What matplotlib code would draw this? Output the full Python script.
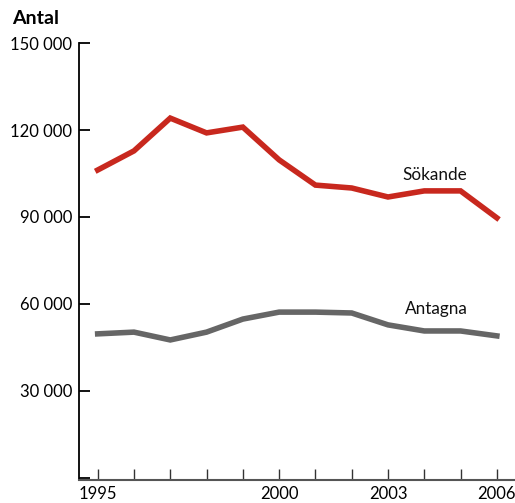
import matplotlib.pyplot as plt
import numpy as np

plt.rcParams['font.family'] = ['Lato', 'DejaVu Sans']

years = np.arange(1995, 2007)
sokande = [106200, 112800, 124100, 119000, 121000, 109700,
           101000, 100000, 96900, 99000, 99000, 89700]
antagna = [49700, 50300, 47600, 50300, 54800, 57200,
           57200, 56900, 52800, 50700, 50700, 49000]
yticks = [0, 30000, 60000, 90000, 120000, 150000]
ylabels = ['', '30 000', '60 000', '90 000', '120 000', '150 000']
xlabels = {1995: '1995', 2000: '2000', 2003: '2003', 2006: '2006'}

fig = plt.figure(figsize=(5.15, 5.03), dpi=100)
ax = fig.add_axes([79 / 515, 0.0457, 1 - 79 / 515, 0.8688])

ax.plot(years, sokande, color='#c8281e', lw=4, solid_joinstyle='miter')
ax.plot(years, antagna, color='#666666', lw=4, solid_joinstyle='miter')

ax.text(2004.28, 104500, 'Sökande', fontsize=12.3, ha='center', va='center', color='#111111')
ax.text(2004.33, 58200, 'Antagna', fontsize=12.3, ha='center', va='center', color='#111111')

ax.set_xlim(1994.485, 2006.5)
ax.set_ylim(-700, 150000)
ax.set_yticks(yticks)
ax.set_yticklabels(ylabels)
ax.set_xticks(years)
ax.set_xticklabels([xlabels.get(y, '') for y in years])

for s in ['top', 'right']:
    ax.spines[s].set_visible(False)
ax.spines['left'].set_color('black')
ax.spines['left'].set_linewidth(1.3)
ax.spines['bottom'].set_color('#555555')
ax.spines['bottom'].set_linewidth(1.5)

ax.tick_params(axis='y', direction='in', length=8, width=1.3, labelsize=12, pad=5, color='black')
ax.tick_params(axis='x', direction='in', length=8, width=1.0, labelsize=12, pad=4, color='#333333')

fig.text(12 / 515, 1 - 18 / 503, 'Antal', fontsize=14, fontweight='bold', va='center', ha='left')

fig.savefig('out.png', dpi=100)
